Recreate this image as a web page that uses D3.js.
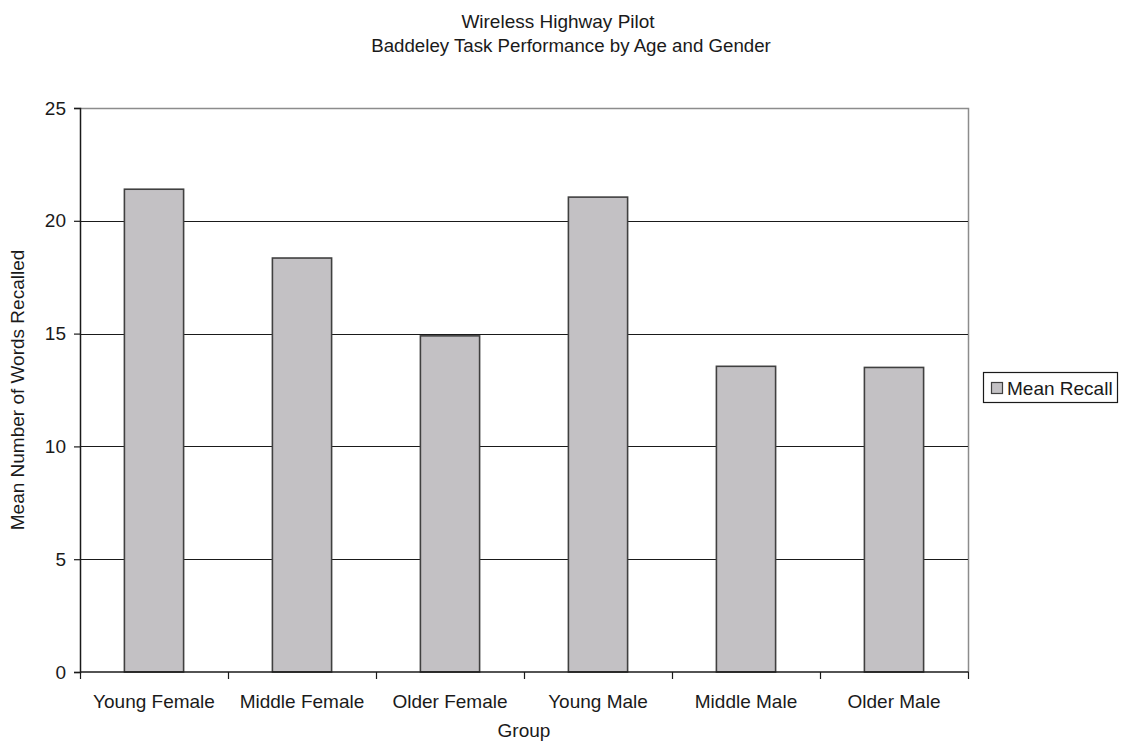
<!DOCTYPE html>
<html>
<head>
<meta charset="utf-8">
<script src="https://cdn.jsdelivr.net/npm/d3@7"></script>
<style>
  html, body { margin: 0; padding: 0; background: #fff; }
  svg { display: block; font-family: "Liberation Sans", Arial, sans-serif; }
</style>
</head>
<body>
<svg id="chart" width="1127" height="747"></svg>
<script>
// Baddeley task results: mean words recalled per group
const groups = ["Young Female", "Middle Female", "Older Female", "Young Male", "Middle Male", "Older Male"];
const meanRecall = [21.4, 18.35, 14.9, 21.05, 13.55, 13.5];
const yTicks = [0, 5, 10, 15, 20, 25];
const seriesName = "Mean Recall";

const svg = d3.select("#chart");
const plot = { left: 80, right: 968, top: 108, bottom: 672 };

const x = d3.scaleBand().domain(groups).range([plot.left, plot.right]).paddingInner(0.6).paddingOuter(0.3);
const xBand = d3.scaleBand().domain(groups).range([plot.left, plot.right]);
const y = d3.scaleLinear().domain([0, 25]).range([plot.bottom, plot.top]);

// Plot border (top and right edges in grey)
svg.append("path")
  .attr("d", `M${plot.left},${plot.top + 0.5}H${plot.right + 0.5}V${plot.bottom}`)
  .attr("fill", "none").attr("stroke", "#8c8c8c").attr("stroke-width", 1.5);

// Horizontal gridlines
svg.append("g").selectAll("line")
  .data(yTicks.filter(d => d > 0 && d < 25))
  .join("line")
  .attr("x1", plot.left).attr("x2", plot.right)
  .attr("y1", d => Math.round(y(d)) + 0.5).attr("y2", d => Math.round(y(d)) + 0.5)
  .attr("stroke", "#1a1a1a").attr("stroke-width", 1.2);

// Bars
svg.append("g").selectAll("rect")
  .data(groups.map((g, i) => ({ g, v: meanRecall[i] })))
  .join("rect")
  .attr("x", d => x(d.g))
  .attr("width", x.bandwidth())
  .attr("y", d => y(d.v))
  .attr("height", d => y(0) - y(d.v))
  .attr("fill", "#c3c1c4")
  .attr("stroke", "#404040")
  .attr("stroke-width", 1.6);

// Y axis
const yAxis = d3.axisLeft(y).tickValues(yTicks).tickSize(6).tickPadding(8);
const gy = svg.append("g").attr("transform", `translate(${plot.left},0)`).call(yAxis);
gy.select(".domain").attr("stroke", "#1a1a1a").attr("stroke-width", 1.5);
gy.selectAll(".tick line").attr("stroke", "#1a1a1a").attr("stroke-width", 1.2);
gy.selectAll(".tick text").attr("font-size", 19).attr("fill", "#1a1a1a")
  .attr("font-family", "Liberation Sans, Arial, sans-serif");

// X axis with ticks at category boundaries
const gx = svg.append("g").attr("transform", `translate(0,${plot.bottom})`);
gx.append("line").attr("x1", plot.left).attr("x2", plot.right + 0.5)
  .attr("y1", 0).attr("y2", 0).attr("stroke", "#1a1a1a").attr("stroke-width", 1.5);
const boundaries = groups.map(g => xBand(g)).concat([plot.right]);
gx.selectAll("line.tk").data(boundaries).join("line").attr("class", "tk")
  .attr("x1", d => Math.round(d) + 0.5).attr("x2", d => Math.round(d) + 0.5)
  .attr("y1", 0).attr("y2", 7).attr("stroke", "#1a1a1a").attr("stroke-width", 1.2);
gx.selectAll("text").data(groups).join("text")
  .attr("x", d => xBand(d) + xBand.bandwidth() / 2)
  .attr("y", 36)
  .attr("text-anchor", "middle")
  .attr("font-size", 19).attr("fill", "#1a1a1a")
  .text(d => d);

// Titles
const title = svg.append("text").attr("text-anchor", "middle").attr("font-size", 19).attr("fill", "#1a1a1a");
title.append("tspan").attr("x", 558).attr("y", 28).text("Wireless Highway Pilot");
title.append("tspan").attr("x", 571).attr("y", 52).attr("font-size", 18.7).text("Baddeley Task Performance by Age and Gender");

// Axis titles
svg.append("text").attr("x", (plot.left + plot.right) / 2).attr("y", 737)
  .attr("text-anchor", "middle").attr("font-size", 19).attr("fill", "#1a1a1a").text("Group");
svg.append("text")
  .attr("transform", `translate(24,${(plot.top + plot.bottom) / 2}) rotate(-90)`)
  .attr("text-anchor", "middle").attr("font-size", 19).attr("fill", "#1a1a1a")
  .text("Mean Number of Words Recalled");

// Legend
const lg = svg.append("g").attr("transform", "translate(983,372)");
lg.append("rect").attr("x", 0.5).attr("y", 0.5).attr("width", 134).attr("height", 30)
  .attr("fill", "#fff").attr("stroke", "#1a1a1a").attr("stroke-width", 1.2);
lg.append("rect").attr("x", 8.5).attr("y", 10.5).attr("width", 11).attr("height", 11)
  .attr("fill", "#c3c1c4").attr("stroke", "#404040").attr("stroke-width", 1.2);
lg.append("text").attr("x", 24).attr("y", 23).attr("font-size", 19).attr("fill", "#1a1a1a").text(seriesName);
</script>
</body>
</html>
